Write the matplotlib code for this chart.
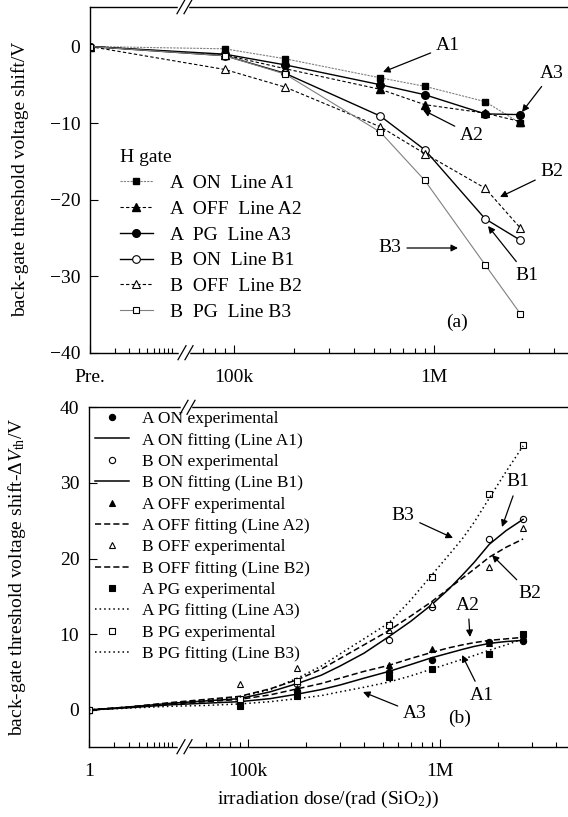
import numpy as np
import matplotlib
matplotlib.use('Agg')
import matplotlib.pyplot as plt
from matplotlib.lines import Line2D

plt.rcParams['font.family'] = ['Liberation Serif', 'DejaVu Serif']
plt.rcParams['mathtext.fontset'] = 'custom'
plt.rcParams['mathtext.rm'] = 'Liberation Serif'
plt.rcParams['mathtext.it'] = 'Liberation Serif:italic'
plt.rcParams['font.size'] = 14

W, H = 568, 817

# irradiation doses, rad(SiO2); 1 stands for "Pre."
dose = [1, 9e4, 1.8e5, 5.4e5, 9e5, 1.8e6, 2.7e6]

# (a) threshold voltage shift, V
a_on = [0, -0.3, -1.6, -4.1, -5.2, -7.2, -10.0]
a_off = [0, -1.1, -2.9, -5.6, -7.6, -8.7, -9.8]
a_pg = [0, -1.0, -2.4, -5.0, -6.3, -8.8, -8.9]
b_on = [0, -1.2, -3.5, -9.1, -13.5, -22.5, -25.3]
b_off = [0, -3.0, -5.3, -10.5, -14.0, -18.5, -23.7]
b_pg = [0, -1.2, -3.6, -11.2, -17.5, -28.5, -34.9]

# (b) experimental -dVth, V
ex_a_on = [0, 1.2, 2.5, 5.0, 6.6, 9.0, 9.1]
ex_b_on = [0, 1.3, 3.5, 9.2, 13.6, 22.6, 25.3]
ex_a_off = [0, 1.2, 2.9, 5.9, 8.0, 8.8, 9.8]
ex_b_off = [0, 3.4, 5.6, 10.6, 14.0, 18.9, 24.0]
ex_a_pg = [0, 0.5, 1.9, 4.4, 5.4, 7.4, 10.1]
ex_b_pg = [0, 1.5, 3.8, 11.2, 17.6, 28.6, 35.0]

# (b) fitting curves
fit_dose = [1, 3, 10, 6e4, 9e4, 1.3e5, 1.8e5, 2.4e5, 3e5, 4e5, 5.4e5, 7e5,
            9e5, 1.1e6, 1.3e6, 1.5e6, 1.8e6, 2.2e6, 2.7e6]
fit_a1 = [0, 0.3, 0.7, 0.9, 1.1, 1.5, 2.1, 2.7, 3.3, 4.2, 5.1, 6.0,
          6.9, 7.5, 8.0, 8.4, 8.8, 9.05, 9.2]
fit_a2 = [0, 0.35, 0.8, 1.1, 1.4, 2.0, 2.8, 3.5, 4.2, 5.1, 5.9, 6.8,
          7.6, 8.2, 8.6, 8.9, 9.2, 9.4, 9.6]
fit_a3 = [0, 0.25, 0.5, 0.6, 0.8, 1.1, 1.5, 1.9, 2.4, 3.0, 3.7, 4.5,
          5.4, 6.1, 6.7, 7.2, 7.9, 8.6, 9.4]
fit_b1 = [0, 0.4, 0.9, 1.2, 1.5, 2.4, 3.5, 4.6, 5.8, 7.5, 9.7, 11.7,
          13.9, 15.9, 17.8, 19.5, 21.9, 23.7, 25.2]
fit_b2 = [0, 0.4, 1.0, 1.4, 1.8, 2.8, 4.0, 5.4, 6.8, 8.6, 10.5, 12.4,
          14.3, 16.0, 17.4, 18.6, 20.2, 21.5, 22.6]
fit_b3 = [0, 0.4, 0.9, 1.3, 1.7, 2.7, 4.2, 5.8, 7.4, 9.4, 11.5, 14.5,
          17.8, 20.4, 22.6, 24.8, 28.0, 31.5, 34.9]

minor_left = [2, 3, 4, 5, 6, 7, 8, 9, 10]
minor_right = [2e5, 3e5, 4e5, 5e5, 6e5, 7e5, 8e5, 9e5, 2e6, 3e6, 4e6]


def make_scale(u0, dec_left, u100k, dec_right, l_join=4.74):
    # broken log axis: compressed 1..10 decade, then regular log from ~55k
    lg = [-12, 0, 1, l_join, 12]
    uu = [u0 - 12 * dec_left, u0, u0 + dec_left,
          u100k + dec_right * (l_join - 5), u100k + dec_right * 7]

    def fwd(x):
        x = np.clip(np.asarray(x, dtype=float), 1e-12, None)
        return np.interp(np.log10(x), lg, uu)

    def inv(u):
        return 10 ** np.interp(np.asarray(u, dtype=float), uu, lg)
    return fwd, inv


def px(x, y):
    return (x, H - y)


def slash(fig, x0, y0):
    fig.add_artist(Line2D([(x0 + 2) / W, (x0 + 10) / W], [1 - y0 / H] * 2,
                          color='white', lw=2.5, transform=fig.transFigure))
    for dx in (0, 7):
        fig.add_artist(Line2D([(x0 + dx) / W, (x0 + dx + 8) / W],
                              [1 - (y0 + 7) / H, 1 - (y0 - 7) / H],
                              color='k', lw=0.9, transform=fig.transFigure))


def note(ax, text, txy, hxy):
    ax.annotate(text, xy=px(*hxy), xycoords='figure pixels',
                xytext=px(*txy), textcoords='figure pixels',
                ha='center', va='center', fontsize=14,
                arrowprops=dict(arrowstyle='-|>', color='k', lw=0.9,
                                mutation_scale=10, shrinkA=2, shrinkB=0))


def style_axes(ax):
    ax.spines['right'].set_visible(False)
    for s in ('left', 'bottom', 'top'):
        ax.spines[s].set_linewidth(1.0)
    ax.tick_params(which='both', direction='in', top=False, right=False,
                   labelsize=14, width=0.8)
    ax.tick_params(which='major', length=6)
    ax.tick_params(which='minor', length=3.5)
    ax.tick_params(axis='x', pad=12)
    ax.tick_params(axis='y', pad=7)


fig = plt.figure(figsize=(W / 100, H / 100), dpi=100)

# ---------------- (a)
ax1 = fig.add_axes([90 / W, 1 - 352.7 / H, (W - 90) / W, 346 / H])
f1, i1 = make_scale(90, 82, 234, 200)
ax1.set_xscale('function', functions=(f1, i1))
ax1.set_xlim(1, float(i1(W)))
ax1.set_ylim(-40, 5.2)

ax1.plot(dose, a_on, color='0.5', lw=0.8, ls=(0, (2, 1)), marker='s', ms=5,
         mfc='k', mec='k', label='A  ON  Line A1')
ax1.plot(dose, a_off, color='k', lw=0.8, ls=(0, (3, 2)), marker='^', ms=6,
         mfc='k', mec='k', label='A  OFF  Line A2')
ax1.plot(dose, a_pg, color='k', lw=1.0, marker='o', ms=5.5,
         mfc='k', mec='k', label='A  PG  Line A3')
ax1.plot(dose, b_on, color='k', lw=1.0, marker='o', ms=5.5,
         mfc='white', mec='k', mew=0.8, label='B  ON  Line B1')
ax1.plot(dose, b_off, color='k', lw=0.8, ls=(0, (3, 2)), marker='^', ms=6,
         mfc='white', mec='k', mew=0.8, label='B  OFF  Line B2')
ax1.plot(dose, b_pg, color='0.5', lw=0.8, marker='s', ms=5,
         mfc='white', mec='k', mew=0.8, label='B  PG  Line B3')

ax1.set_xticks([1, 1e5, 1e6], ['Pre.', '100k', '1M'])
ax1.set_xticks(minor_left + [7e4, 8e4, 9e4] + minor_right, minor=True)
ax1.set_yticks([0, -10, -20, -30, -40])
style_axes(ax1)
ax1.set_ylabel('back-gate threshold voltage shift/V', fontsize=14)
ax1.yaxis.set_label_coords(-0.128, 0.5)

ax1.legend(loc='upper left', bbox_to_anchor=(0.062, 0.588), frameon=False,
           title='H gate', title_fontsize=14, alignment='left', fontsize=14,
           handlelength=1.7, handletextpad=0.9, labelspacing=0.42,
           borderpad=0, borderaxespad=0)

note(ax1, 'A1', (448, 46), (383, 72))
note(ax1, 'A3', (552, 73), (522, 112))
note(ax1, 'A2', (472, 135), (423, 110))
note(ax1, 'B2', (552, 172), (500, 197))
note(ax1, 'B1', (527, 275), (488, 226))
note(ax1, 'B3', (390, 248), (458, 248))
ax1.annotate('(a)', xy=px(457, 322), xycoords='figure pixels',
             ha='center', va='center', fontsize=14)

# ---------------- (b)
ax2 = fig.add_axes([89 / W, 1 - 746.7 / H, (W - 89) / W, 339.4 / H])
f2, i2 = make_scale(89, 83, 248.3, 192)
ax2.set_xscale('function', functions=(f2, i2))
ax2.set_xlim(1, float(i2(W)))
ax2.set_ylim(-4.85, 40)

mk = dict(ls='none', mec='k', mew=0.8, ms=4.5)
ax2.plot(dose, ex_a_on, marker='o', mfc='k', label='A ON experimental', **mk)
ax2.plot(fit_dose, fit_a1, 'k-', lw=1.1, label='A ON fitting (Line A1)')
ax2.plot(dose, ex_b_on, marker='o', mfc='white', label='B ON experimental', **mk)
ax2.plot(fit_dose, fit_b1, 'k-', lw=1.1, label='B ON fitting (Line B1)')
ax2.plot(dose, ex_a_off, marker='^', mfc='k', label='A OFF experimental', **mk)
ax2.plot(fit_dose, fit_a2, color='k', lw=1.1, ls=(0, (4, 2)),
         label='A OFF fitting (Line A2)')
ax2.plot(dose, ex_b_off, marker='^', mfc='white', label='B OFF experimental', **mk)
ax2.plot(fit_dose, fit_b2, color='k', lw=1.1, ls=(0, (4, 2)),
         label='B OFF fitting (Line B2)')
ax2.plot(dose, ex_a_pg, marker='s', mfc='k', label='A PG experimental', **mk)
ax2.plot(fit_dose, fit_a3, color='k', lw=1.1, ls=(0, (1, 2)),
         label='A PG fitting (Line A3)')
ax2.plot(dose, ex_b_pg, marker='s', mfc='white', label='B PG experimental', **mk)
ax2.plot(fit_dose, fit_b3, color='k', lw=1.1, ls=(0, (1, 2)),
         label='B PG fitting (Line B3)')

ax2.set_xticks([1, 1e5, 1e6], ['1', '100k', '1M'])
ax2.set_xticks(minor_left + [6e4, 7e4, 8e4, 9e4] + minor_right, minor=True)
ax2.set_yticks([0, 10, 20, 30, 40])
style_axes(ax2)
ax2.set_ylabel(r'back-gate threshold voltage shift-$\Delta V_{\rm th}$/V', fontsize=14)
ax2.yaxis.set_label_coords(-0.128, 0.5)
ax2.set_xlabel(r'irradiation dose/(rad (SiO$_2$))', fontsize=14)
ax2.xaxis.set_label_coords(0.5, -0.125)

ax2.legend(loc='upper left', bbox_to_anchor=(0.012, 0.989), frameon=False,
           fontsize=12.5, handlelength=2.0, handletextpad=0.7,
           labelspacing=0.3, borderpad=0, borderaxespad=0)

note(ax2, 'B1', (518, 482), (502, 527))
note(ax2, 'B3', (403, 515), (453, 538))
note(ax2, 'B2', (530, 593), (492, 555))
note(ax2, 'A2', (468, 605), (470, 637))
note(ax2, 'A1', (482, 695), (462, 655))
note(ax2, 'A3', (415, 713), (363, 692))
ax2.annotate('(b)', xy=px(460, 718), xycoords='figure pixels',
             ha='center', va='center', fontsize=14)

# axis break marks
slash(fig, 177, 6.7)
slash(fig, 178, 352.7)
slash(fig, 180, 407.3)
slash(fig, 177, 746.7)

fig.savefig('out.png', dpi=100)
